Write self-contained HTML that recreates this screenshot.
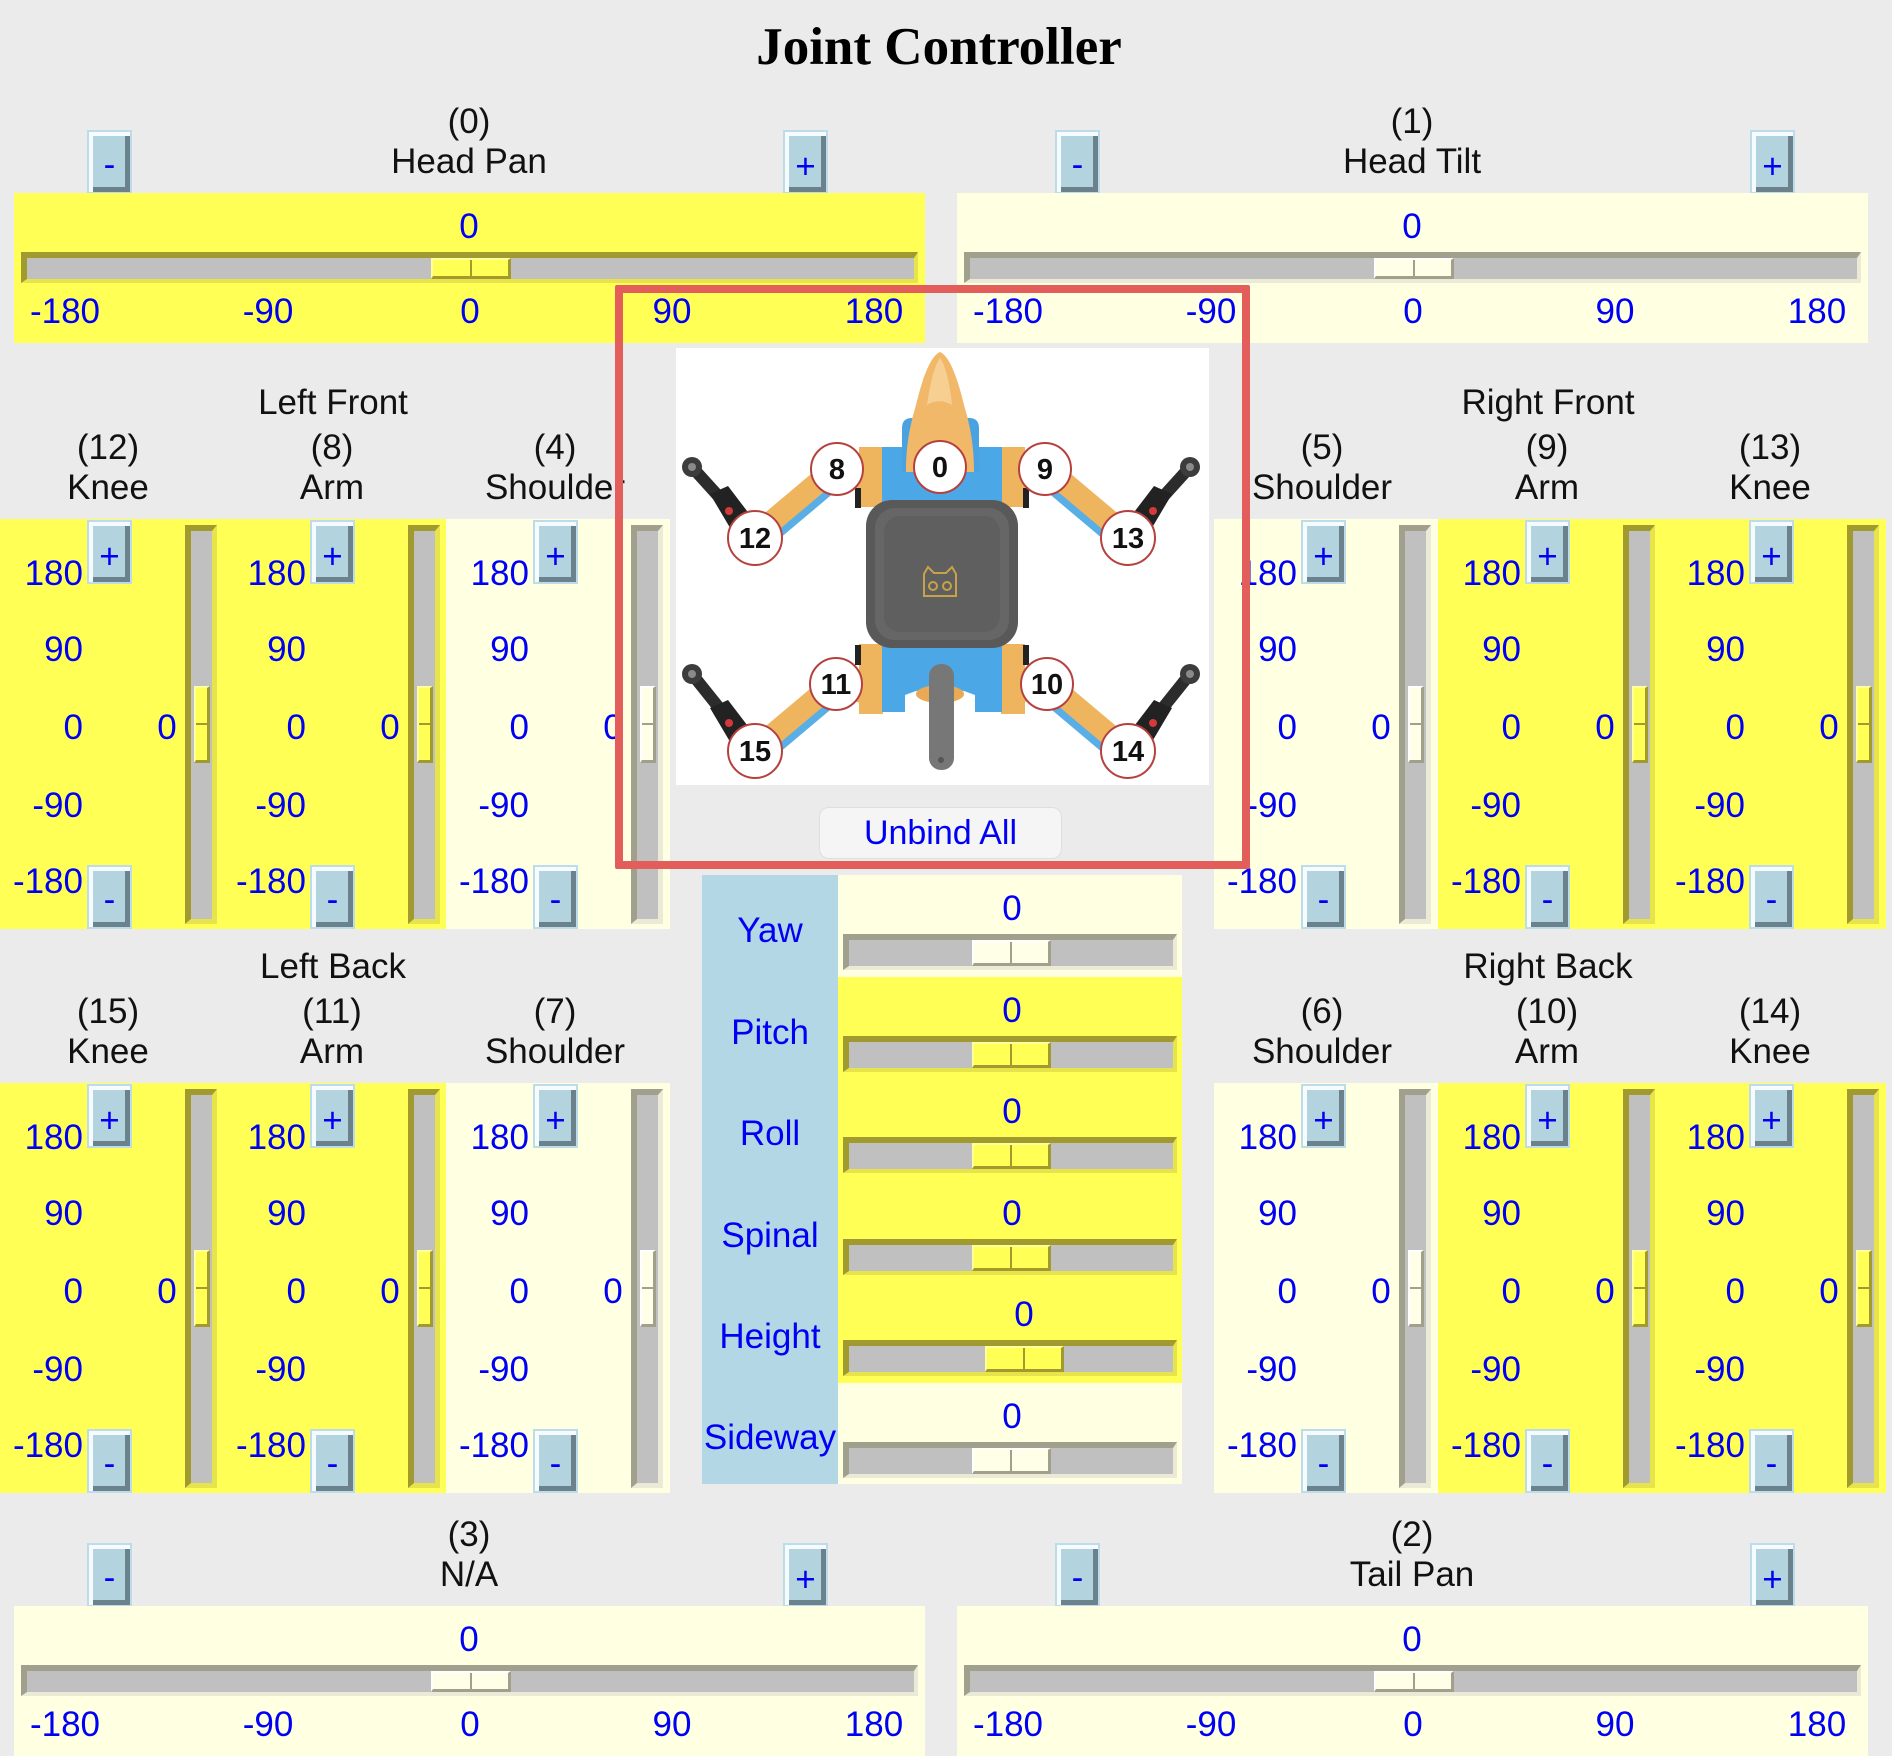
<!DOCTYPE html>
<html><head><meta charset="utf-8">
<style>
*{margin:0;padding:0}
html,body{width:1892px;height:1756px}
body{position:relative;overflow:hidden;background:#ebebeb;font-family:"Liberation Sans",Arial,sans-serif}
.a{position:absolute}
.Y{background:#ffff55;--d:#a19b2f;--l:#e7e44b;--f:#ffff55;--tl:#ffff9c}
.L{background:#ffffe2;--d:#a1a08d;--l:#ebead6;--f:#ffffe8;--tl:#ffffff}
.c{position:absolute;width:300px;height:40px;line-height:40px;font-size:35px;text-align:center;white-space:nowrap;color:#0000f5}
.k{color:#111}
.btn{position:absolute;width:45px;height:64px;box-sizing:border-box;border:2px solid #bcdcea;background:#b3d3df;box-shadow:inset 4px 4px 0 #f5fbfe,inset -5px -5px 0 #6b818c;color:#0000f5;font-size:35px;line-height:35px;text-align:center}
.btn.p{padding-top:17px}
.btn.m{padding-top:15px}
.hp{position:absolute;width:911px;height:150px}
.vp{position:absolute;width:224px;height:410px}
.hs{position:absolute;box-sizing:border-box;height:31px;border-style:solid;border-width:6px 4px 4px 6px;border-color:var(--d) var(--l) var(--l) var(--d);background:#c0c0c0}
.ht{position:absolute;top:0;bottom:0;width:80px;box-sizing:border-box;background:var(--f);border-style:solid;border-width:2px 3px 3px 2px;border-color:var(--tl) var(--d) var(--d) var(--tl)}
.ht:after{content:"";position:absolute;left:50%;top:0;bottom:0;width:2px;margin-left:-1px;background:var(--d)}
.vs{position:absolute;left:185px;top:6px;width:32px;height:399px;box-sizing:border-box;border-style:solid;border-width:6px 5px 5px 6px;border-color:var(--d) var(--l) var(--l) var(--d);background:#c0c0c0}
.vt{position:absolute;left:3px;width:16px;top:155px;height:77px;box-sizing:border-box;background:var(--f);border-style:solid;border-width:2px 3px 3px 2px;border-color:var(--tl) var(--d) var(--d) var(--tl)}
.vt:after{content:"";position:absolute;left:0;right:0;top:50%;height:2px;margin-top:-1px;background:var(--d)}
.sc{position:absolute;left:0;width:83px;height:40px;line-height:40px;font-size:35px;text-align:right;color:#0000f5;white-space:nowrap}
.pl{position:absolute;left:620px;width:300px;height:40px;line-height:40px;font-size:35px;text-align:center;color:#0000f5;white-space:nowrap}
</style></head><body>

<div class="a" style="left:0;top:21px;width:1878px;text-align:center;font-family:'Liberation Serif','Times New Roman',serif;font-weight:bold;font-size:53px;line-height:53px;color:#000">Joint Controller</div>

<!-- top labels -->
<div class="c k" style="left:319px;top:102px">(0)</div>
<div class="c k" style="left:319px;top:142px">Head Pan</div>
<div class="c k" style="left:1262px;top:102px">(1)</div>
<div class="c k" style="left:1262px;top:142px">Head Tilt</div>
<div class="btn m" style="left:87px;top:130px">-</div>
<div class="btn p" style="left:783px;top:130px">+</div>
<div class="btn m" style="left:1055px;top:130px">-</div>
<div class="btn p" style="left:1750px;top:130px">+</div>

<div class="hp Y" style="left:14px;top:193px">
 <div class="c" style="left:305px;top:14px">0</div>
 <div class="hs" style="left:7px;top:59px;width:897px"><div class="ht" style="left:404px"></div></div>
 <div class="c" style="left:-99px;top:99px">-180</div>
 <div class="c" style="left:104px;top:99px">-90</div>
 <div class="c" style="left:306px;top:99px">0</div>
 <div class="c" style="left:508px;top:99px">90</div>
 <div class="c" style="left:710px;top:99px">180</div>
</div>
<div class="hp L" style="left:957px;top:193px">
 <div class="c" style="left:305px;top:14px">0</div>
 <div class="hs" style="left:7px;top:59px;width:897px"><div class="ht" style="left:404px"></div></div>
 <div class="c" style="left:-99px;top:99px">-180</div>
 <div class="c" style="left:104px;top:99px">-90</div>
 <div class="c" style="left:306px;top:99px">0</div>
 <div class="c" style="left:508px;top:99px">90</div>
 <div class="c" style="left:710px;top:99px">180</div>
</div>

<!-- group labels front -->
<div class="c k" style="left:183px;top:383px">Left Front</div>
<div class="c k" style="left:-42px;top:428px">(12)</div>
<div class="c k" style="left:-42px;top:468px">Knee</div>
<div class="c k" style="left:182px;top:428px">(8)</div>
<div class="c k" style="left:182px;top:468px">Arm</div>
<div class="c k" style="left:405px;top:428px">(4)</div>
<div class="c k" style="left:405px;top:468px">Shoulder</div>

<div class="c k" style="left:1398px;top:383px">Right Front</div>
<div class="c k" style="left:1172px;top:428px">(5)</div>
<div class="c k" style="left:1172px;top:468px">Shoulder</div>
<div class="c k" style="left:1397px;top:428px">(9)</div>
<div class="c k" style="left:1397px;top:468px">Arm</div>
<div class="c k" style="left:1620px;top:428px">(13)</div>
<div class="c k" style="left:1620px;top:468px">Knee</div>

<!-- group labels back -->
<div class="c k" style="left:183px;top:947px">Left Back</div>
<div class="c k" style="left:-42px;top:992px">(15)</div>
<div class="c k" style="left:-42px;top:1032px">Knee</div>
<div class="c k" style="left:182px;top:992px">(11)</div>
<div class="c k" style="left:182px;top:1032px">Arm</div>
<div class="c k" style="left:405px;top:992px">(7)</div>
<div class="c k" style="left:405px;top:1032px">Shoulder</div>

<div class="c k" style="left:1398px;top:947px">Right Back</div>
<div class="c k" style="left:1172px;top:992px">(6)</div>
<div class="c k" style="left:1172px;top:1032px">Shoulder</div>
<div class="c k" style="left:1397px;top:992px">(10)</div>
<div class="c k" style="left:1397px;top:1032px">Arm</div>
<div class="c k" style="left:1620px;top:992px">(14)</div>
<div class="c k" style="left:1620px;top:1032px">Knee</div>

<!-- vertical panels: Left Front -->
<div class="vp Y" style="left:0;top:519px">
 <div class="btn p" style="left:87px;top:1px">+</div><div class="btn m" style="left:87px;top:346px">-</div>
 <div class="sc" style="top:35px">180</div><div class="sc" style="top:111px">90</div><div class="sc" style="top:189px">0</div><div class="sc" style="top:267px">-90</div><div class="sc" style="top:343px">-180</div>
 <div class="c" style="left:17px;top:189px">0</div>
 <div class="vs"><div class="vt"></div></div>
</div>
<div class="vp Y" style="left:223px;top:519px">
 <div class="btn p" style="left:87px;top:1px">+</div><div class="btn m" style="left:87px;top:346px">-</div>
 <div class="sc" style="top:35px">180</div><div class="sc" style="top:111px">90</div><div class="sc" style="top:189px">0</div><div class="sc" style="top:267px">-90</div><div class="sc" style="top:343px">-180</div>
 <div class="c" style="left:17px;top:189px">0</div>
 <div class="vs"><div class="vt"></div></div>
</div>
<div class="vp L" style="left:446px;top:519px">
 <div class="btn p" style="left:87px;top:1px">+</div><div class="btn m" style="left:87px;top:346px">-</div>
 <div class="sc" style="top:35px">180</div><div class="sc" style="top:111px">90</div><div class="sc" style="top:189px">0</div><div class="sc" style="top:267px">-90</div><div class="sc" style="top:343px">-180</div>
 <div class="c" style="left:17px;top:189px">0</div>
 <div class="vs"><div class="vt"></div></div>
</div>

<!-- Right Front -->
<div class="vp L" style="left:1214px;top:519px">
 <div class="btn p" style="left:87px;top:1px">+</div><div class="btn m" style="left:87px;top:346px">-</div>
 <div class="sc" style="top:35px">180</div><div class="sc" style="top:111px">90</div><div class="sc" style="top:189px">0</div><div class="sc" style="top:267px">-90</div><div class="sc" style="top:343px">-180</div>
 <div class="c" style="left:17px;top:189px">0</div>
 <div class="vs"><div class="vt"></div></div>
</div>
<div class="vp Y" style="left:1438px;top:519px">
 <div class="btn p" style="left:87px;top:1px">+</div><div class="btn m" style="left:87px;top:346px">-</div>
 <div class="sc" style="top:35px">180</div><div class="sc" style="top:111px">90</div><div class="sc" style="top:189px">0</div><div class="sc" style="top:267px">-90</div><div class="sc" style="top:343px">-180</div>
 <div class="c" style="left:17px;top:189px">0</div>
 <div class="vs"><div class="vt"></div></div>
</div>
<div class="vp Y" style="left:1662px;top:519px">
 <div class="btn p" style="left:87px;top:1px">+</div><div class="btn m" style="left:87px;top:346px">-</div>
 <div class="sc" style="top:35px">180</div><div class="sc" style="top:111px">90</div><div class="sc" style="top:189px">0</div><div class="sc" style="top:267px">-90</div><div class="sc" style="top:343px">-180</div>
 <div class="c" style="left:17px;top:189px">0</div>
 <div class="vs"><div class="vt"></div></div>
</div>

<!-- Left Back -->
<div class="vp Y" style="left:0;top:1083px">
 <div class="btn p" style="left:87px;top:1px">+</div><div class="btn m" style="left:87px;top:346px">-</div>
 <div class="sc" style="top:35px">180</div><div class="sc" style="top:111px">90</div><div class="sc" style="top:189px">0</div><div class="sc" style="top:267px">-90</div><div class="sc" style="top:343px">-180</div>
 <div class="c" style="left:17px;top:189px">0</div>
 <div class="vs"><div class="vt"></div></div>
</div>
<div class="vp Y" style="left:223px;top:1083px">
 <div class="btn p" style="left:87px;top:1px">+</div><div class="btn m" style="left:87px;top:346px">-</div>
 <div class="sc" style="top:35px">180</div><div class="sc" style="top:111px">90</div><div class="sc" style="top:189px">0</div><div class="sc" style="top:267px">-90</div><div class="sc" style="top:343px">-180</div>
 <div class="c" style="left:17px;top:189px">0</div>
 <div class="vs"><div class="vt"></div></div>
</div>
<div class="vp L" style="left:446px;top:1083px">
 <div class="btn p" style="left:87px;top:1px">+</div><div class="btn m" style="left:87px;top:346px">-</div>
 <div class="sc" style="top:35px">180</div><div class="sc" style="top:111px">90</div><div class="sc" style="top:189px">0</div><div class="sc" style="top:267px">-90</div><div class="sc" style="top:343px">-180</div>
 <div class="c" style="left:17px;top:189px">0</div>
 <div class="vs"><div class="vt"></div></div>
</div>

<!-- Right Back -->
<div class="vp L" style="left:1214px;top:1083px">
 <div class="btn p" style="left:87px;top:1px">+</div><div class="btn m" style="left:87px;top:346px">-</div>
 <div class="sc" style="top:35px">180</div><div class="sc" style="top:111px">90</div><div class="sc" style="top:189px">0</div><div class="sc" style="top:267px">-90</div><div class="sc" style="top:343px">-180</div>
 <div class="c" style="left:17px;top:189px">0</div>
 <div class="vs"><div class="vt"></div></div>
</div>
<div class="vp Y" style="left:1438px;top:1083px">
 <div class="btn p" style="left:87px;top:1px">+</div><div class="btn m" style="left:87px;top:346px">-</div>
 <div class="sc" style="top:35px">180</div><div class="sc" style="top:111px">90</div><div class="sc" style="top:189px">0</div><div class="sc" style="top:267px">-90</div><div class="sc" style="top:343px">-180</div>
 <div class="c" style="left:17px;top:189px">0</div>
 <div class="vs"><div class="vt"></div></div>
</div>
<div class="vp Y" style="left:1662px;top:1083px">
 <div class="btn p" style="left:87px;top:1px">+</div><div class="btn m" style="left:87px;top:346px">-</div>
 <div class="sc" style="top:35px">180</div><div class="sc" style="top:111px">90</div><div class="sc" style="top:189px">0</div><div class="sc" style="top:267px">-90</div><div class="sc" style="top:343px">-180</div>
 <div class="c" style="left:17px;top:189px">0</div>
 <div class="vs"><div class="vt"></div></div>
</div>

<!-- posture panel -->
<div class="a" style="left:702px;top:875px;width:136px;height:609px;background:#b3d7e5"></div>
<div class="pl" style="top:911px">Yaw</div>
<div class="pl" style="top:1013px">Pitch</div>
<div class="pl" style="top:1114px">Roll</div>
<div class="pl" style="top:1216px">Spinal</div>
<div class="pl" style="top:1317px">Height</div>
<div class="pl" style="top:1418px">Sideway</div>

<div class="a L" style="left:838px;top:875px;width:344px;height:102px">
 <div class="c" style="left:24px;top:14px">0</div>
 <div class="hs" style="left:5px;top:59px;width:334px;height:36px"><div class="ht" style="left:123px;width:79px"></div></div>
</div>
<div class="a Y" style="left:838px;top:977px;width:344px;height:101px">
 <div class="c" style="left:24px;top:14px">0</div>
 <div class="hs" style="left:5px;top:59px;width:334px;height:36px"><div class="ht" style="left:123px;width:79px"></div></div>
</div>
<div class="a Y" style="left:838px;top:1078px;width:344px;height:102px">
 <div class="c" style="left:24px;top:14px">0</div>
 <div class="hs" style="left:5px;top:59px;width:334px;height:36px"><div class="ht" style="left:123px;width:79px"></div></div>
</div>
<div class="a Y" style="left:838px;top:1180px;width:344px;height:101px">
 <div class="c" style="left:24px;top:14px">0</div>
 <div class="hs" style="left:5px;top:59px;width:334px;height:36px"><div class="ht" style="left:123px;width:79px"></div></div>
</div>
<div class="a Y" style="left:838px;top:1281px;width:344px;height:102px">
 <div class="c" style="left:36px;top:14px">0</div>
 <div class="hs" style="left:5px;top:59px;width:334px;height:36px"><div class="ht" style="left:136px;width:79px"></div></div>
</div>
<div class="a L" style="left:838px;top:1383px;width:344px;height:101px">
 <div class="c" style="left:24px;top:14px">0</div>
 <div class="hs" style="left:5px;top:59px;width:334px;height:36px"><div class="ht" style="left:123px;width:79px"></div></div>
</div>

<!-- bottom -->
<div class="c k" style="left:319px;top:1515px">(3)</div>
<div class="c k" style="left:319px;top:1555px">N/A</div>
<div class="c k" style="left:1262px;top:1515px">(2)</div>
<div class="c k" style="left:1262px;top:1555px">Tail Pan</div>
<div class="btn m" style="left:87px;top:1543px">-</div>
<div class="btn p" style="left:783px;top:1543px">+</div>
<div class="btn m" style="left:1055px;top:1543px">-</div>
<div class="btn p" style="left:1750px;top:1543px">+</div>

<div class="hp L" style="left:14px;top:1606px">
 <div class="c" style="left:305px;top:14px">0</div>
 <div class="hs" style="left:7px;top:59px;width:897px"><div class="ht" style="left:404px"></div></div>
 <div class="c" style="left:-99px;top:99px">-180</div>
 <div class="c" style="left:104px;top:99px">-90</div>
 <div class="c" style="left:306px;top:99px">0</div>
 <div class="c" style="left:508px;top:99px">90</div>
 <div class="c" style="left:710px;top:99px">180</div>
</div>
<div class="hp L" style="left:957px;top:1606px">
 <div class="c" style="left:305px;top:14px">0</div>
 <div class="hs" style="left:7px;top:59px;width:897px"><div class="ht" style="left:404px"></div></div>
 <div class="c" style="left:-99px;top:99px">-180</div>
 <div class="c" style="left:104px;top:99px">-90</div>
 <div class="c" style="left:306px;top:99px">0</div>
 <div class="c" style="left:508px;top:99px">90</div>
 <div class="c" style="left:710px;top:99px">180</div>
</div>

<!-- robot image -->
<svg class="a" style="left:676px;top:348px" width="533" height="437" viewBox="676 348 533 437">
 <rect x="676" y="348" width="533" height="437" fill="#ffffff"/>
 <!-- front-left leg -->
 <g>
  <line x1="762" y1="539" x2="838" y2="475" stroke="#5aaee6" stroke-width="22" stroke-linecap="round"/>
  <line x1="758" y1="533" x2="834" y2="469" stroke="#efb55e" stroke-width="22" stroke-linecap="round"/>
  <line x1="834" y1="470" x2="862" y2="478" stroke="#efb55e" stroke-width="22"/>
  <line x1="692" y1="467" x2="740" y2="520" stroke="#2c2c2c" stroke-width="12" stroke-linecap="round"/>
  <polygon points="710,494 728,486 760,528 742,548" fill="#222"/>
  <circle cx="692" cy="467" r="10" fill="#3c3c3c"/><circle cx="692" cy="467" r="4" fill="#8a8a8a"/>
  <circle cx="729" cy="511" r="4" fill="#d43a3a"/>
 </g>
 <g transform="translate(0,214)">
  <line x1="762" y1="539" x2="838" y2="475" stroke="#5aaee6" stroke-width="22" stroke-linecap="round"/>
  <line x1="758" y1="533" x2="834" y2="469" stroke="#efb55e" stroke-width="22" stroke-linecap="round"/>
  <line x1="834" y1="470" x2="862" y2="478" stroke="#efb55e" stroke-width="22"/>
  <line x1="692" y1="460" x2="740" y2="520" stroke="#2c2c2c" stroke-width="12" stroke-linecap="round"/>
  <polygon points="710,494 728,486 760,528 742,548" fill="#222"/>
  <circle cx="692" cy="460" r="10" fill="#3c3c3c"/><circle cx="692" cy="460" r="4" fill="#8a8a8a"/>
  <circle cx="729" cy="509" r="4" fill="#d43a3a"/>
 </g>
 <g transform="matrix(-1,0,0,1,1882,0)">
  <line x1="762" y1="539" x2="838" y2="475" stroke="#5aaee6" stroke-width="22" stroke-linecap="round"/>
  <line x1="758" y1="533" x2="834" y2="469" stroke="#efb55e" stroke-width="22" stroke-linecap="round"/>
  <line x1="834" y1="470" x2="862" y2="478" stroke="#efb55e" stroke-width="22"/>
  <line x1="692" y1="467" x2="740" y2="520" stroke="#2c2c2c" stroke-width="12" stroke-linecap="round"/>
  <polygon points="710,494 728,486 760,528 742,548" fill="#222"/>
  <circle cx="692" cy="467" r="10" fill="#3c3c3c"/><circle cx="692" cy="467" r="4" fill="#8a8a8a"/>
  <circle cx="729" cy="511" r="4" fill="#d43a3a"/>
 </g>
 <g transform="matrix(-1,0,0,1,1882,214)">
  <line x1="762" y1="539" x2="838" y2="475" stroke="#5aaee6" stroke-width="22" stroke-linecap="round"/>
  <line x1="758" y1="533" x2="834" y2="469" stroke="#efb55e" stroke-width="22" stroke-linecap="round"/>
  <line x1="834" y1="470" x2="862" y2="478" stroke="#efb55e" stroke-width="22"/>
  <line x1="692" y1="460" x2="740" y2="520" stroke="#2c2c2c" stroke-width="12" stroke-linecap="round"/>
  <polygon points="710,494 728,486 760,528 742,548" fill="#222"/>
  <circle cx="692" cy="460" r="10" fill="#3c3c3c"/><circle cx="692" cy="460" r="4" fill="#8a8a8a"/>
  <circle cx="729" cy="509" r="4" fill="#d43a3a"/>
 </g>
 <!-- shoulders -->
 <rect x="859" y="447" width="24" height="60" fill="#efb55e"/>
 <rect x="1001" y="447" width="24" height="60" fill="#efb55e"/>
 <rect x="859" y="644" width="24" height="70" fill="#efb55e"/>
 <rect x="1001" y="644" width="24" height="70" fill="#efb55e"/>
 <rect x="855" y="488" width="6" height="20" fill="#222"/>
 <rect x="1023" y="488" width="6" height="20" fill="#222"/>
 <rect x="855" y="645" width="6" height="20" fill="#222"/>
 <rect x="1023" y="645" width="6" height="20" fill="#222"/>
 <!-- blue bands -->
 <rect x="882" y="447" width="120" height="60" fill="#4ba7e5"/>
 <path d="M882,644 L1002,644 L1002,712 L975,712 L975,695 Q940,680 905,695 L905,712 L882,712 Z" fill="#4ba7e5"/>
 <ellipse cx="940" cy="694" rx="24" ry="9" fill="#e9a955"/>
 <!-- body -->
 <rect x="866" y="500" width="152" height="148" rx="26" fill="#595959"/>
 <rect x="875" y="508" width="134" height="132" rx="20" fill="#666666"/>
 <rect x="884" y="516" width="116" height="116" rx="16" fill="#5f5f5f"/>
 <path d="M924,574 L928,567 L934,573 L946,573 L952,567 L956,574 L956,596 L924,596 Z" fill="none" stroke="#c8a246" stroke-width="2"/>
 <circle cx="933" cy="586" r="4" fill="none" stroke="#c8a246" stroke-width="2"/>
 <circle cx="947" cy="586" r="4" fill="none" stroke="#c8a246" stroke-width="2"/>
 <!-- tail -->
 <rect x="929" y="664" width="25" height="106" rx="12" fill="#777777"/>
 <circle cx="941" cy="760" r="3" fill="#555"/>
 <!-- head -->
 <path d="M902,472 L902,428 Q902,418 912,418 L969,418 Q979,418 979,428 L979,472 Z" fill="#4aa3e0"/>
 <path d="M940,352 C930,356 922,380 916,405 C910,425 906,445 906,472 L974,472 C974,445 970,425 964,405 C958,380 950,356 940,352 Z" fill="#f2b86a"/>
 <path d="M940,358 C934,366 930,385 927,405 C934,400 944,400 952,405 C950,385 946,366 940,358 Z" fill="#f8cf93"/>
 <!-- joint circles -->
 <g font-family="Liberation Sans, Arial, sans-serif" font-weight="bold" font-size="29" text-anchor="middle" fill="#111">
  <circle cx="940" cy="467" r="26" fill="#fff" stroke="#b5413f" stroke-width="2"/><text x="940" y="477">0</text>
  <circle cx="837" cy="469" r="26" fill="#fff" stroke="#b5413f" stroke-width="2"/><text x="837" y="479">8</text>
  <circle cx="1045" cy="469" r="26" fill="#fff" stroke="#b5413f" stroke-width="2"/><text x="1045" y="479">9</text>
  <circle cx="755" cy="538" r="27" fill="#fff" stroke="#b5413f" stroke-width="2"/><text x="755" y="548">12</text>
  <circle cx="1128" cy="538" r="27" fill="#fff" stroke="#b5413f" stroke-width="2"/><text x="1128" y="548">13</text>
  <circle cx="836" cy="684" r="26" fill="#fff" stroke="#b5413f" stroke-width="2"/><text x="836" y="694">11</text>
  <circle cx="1047" cy="684" r="26" fill="#fff" stroke="#b5413f" stroke-width="2"/><text x="1047" y="694">10</text>
  <circle cx="755" cy="751" r="27" fill="#fff" stroke="#b5413f" stroke-width="2"/><text x="755" y="761">15</text>
  <circle cx="1128" cy="751" r="27" fill="#fff" stroke="#b5413f" stroke-width="2"/><text x="1128" y="761">14</text>
 </g>
</svg>

<div class="a" style="left:819px;top:807px;width:243px;height:52px;box-sizing:border-box;border:1px solid #dedede;border-radius:10px;background:#f5f5f5;color:#0000f5;font-size:34px;line-height:50px;text-align:center;white-space:nowrap">Unbind All</div>

<!-- red highlight -->
<div class="a" style="left:615px;top:285px;width:635px;height:584px;box-sizing:border-box;border:8px solid #e35e5a;border-radius:2px"></div>

</body></html>
